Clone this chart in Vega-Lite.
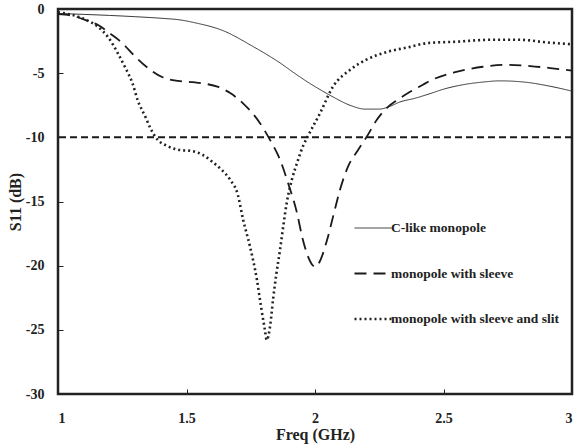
{
  "$schema": "https://vega.github.io/schema/vega-lite/v6.json",
  "width": 514,
  "height": 385,
  "autosize": {"type": "none"},
  "padding": {"left": 58, "top": 9, "right": 2, "bottom": 50},
  "background": "white",
  "config": {
    "view": {"stroke": "#222", "strokeWidth": 2.5},
    "font": "Liberation Serif",
    "axis": {
      "grid": false,
      "domain": false,
      "tickSize": -5,
      "tickColor": "#222",
      "tickWidth": 1,
      "labelFont": "Liberation Serif",
      "labelFontWeight": "bold",
      "labelFontSize": 14,
      "labelColor": "#222",
      "titleFont": "Liberation Serif",
      "titleFontWeight": "bold",
      "titleFontSize": 16,
      "titleColor": "#222"
    },
    "legend": {
      "labelFont": "Liberation Serif",
      "labelFontWeight": "bold",
      "labelFontSize": 13.5,
      "labelColor": "#222",
      "symbolType": "stroke",
      "symbolSize": 1369,
      "rowPadding": 19,
      "padding": 0,
      "labelOffset": -2,
      "labelLimit": 300
    }
  },
  "layer": [
    {
      "data": {
        "values": [
          {"f": 1.0, "s": -0.35, "c": "C-like monopole"},
          {"f": 1.1, "s": -0.42, "c": "C-like monopole"},
          {"f": 1.2, "s": -0.5, "c": "C-like monopole"},
          {"f": 1.3, "s": -0.6, "c": "C-like monopole"},
          {"f": 1.4, "s": -0.72, "c": "C-like monopole"},
          {"f": 1.475, "s": -0.85, "c": "C-like monopole"},
          {"f": 1.55, "s": -1.15, "c": "C-like monopole"},
          {"f": 1.6, "s": -1.4, "c": "C-like monopole"},
          {"f": 1.65, "s": -1.75, "c": "C-like monopole"},
          {"f": 1.7, "s": -2.25, "c": "C-like monopole"},
          {"f": 1.735, "s": -2.65, "c": "C-like monopole"},
          {"f": 1.8, "s": -3.4, "c": "C-like monopole"},
          {"f": 1.864, "s": -4.2, "c": "C-like monopole"},
          {"f": 1.92, "s": -5.0, "c": "C-like monopole"},
          {"f": 1.98, "s": -5.8, "c": "C-like monopole"},
          {"f": 2.03, "s": -6.4, "c": "C-like monopole"},
          {"f": 2.07, "s": -6.85, "c": "C-like monopole"},
          {"f": 2.136, "s": -7.5, "c": "C-like monopole"},
          {"f": 2.195, "s": -7.8, "c": "C-like monopole"},
          {"f": 2.25, "s": -7.8, "c": "C-like monopole"},
          {"f": 2.29, "s": -7.6, "c": "C-like monopole"},
          {"f": 2.33, "s": -7.25, "c": "C-like monopole"},
          {"f": 2.39, "s": -6.95, "c": "C-like monopole"},
          {"f": 2.447, "s": -6.6, "c": "C-like monopole"},
          {"f": 2.5, "s": -6.25, "c": "C-like monopole"},
          {"f": 2.576, "s": -5.9, "c": "C-like monopole"},
          {"f": 2.65, "s": -5.7, "c": "C-like monopole"},
          {"f": 2.72, "s": -5.6, "c": "C-like monopole"},
          {"f": 2.817, "s": -5.7, "c": "C-like monopole"},
          {"f": 2.91, "s": -6.0, "c": "C-like monopole"},
          {"f": 3.0, "s": -6.4, "c": "C-like monopole"},

          {"f": 1.0, "s": -0.4, "c": "monopole with sleeve"},
          {"f": 1.05, "s": -0.5, "c": "monopole with sleeve"},
          {"f": 1.105, "s": -0.85, "c": "monopole with sleeve"},
          {"f": 1.156, "s": -1.25, "c": "monopole with sleeve"},
          {"f": 1.195, "s": -1.8, "c": "monopole with sleeve"},
          {"f": 1.25, "s": -2.65, "c": "monopole with sleeve"},
          {"f": 1.3, "s": -3.7, "c": "monopole with sleeve"},
          {"f": 1.35, "s": -4.6, "c": "monopole with sleeve"},
          {"f": 1.405, "s": -5.3, "c": "monopole with sleeve"},
          {"f": 1.467, "s": -5.6, "c": "monopole with sleeve"},
          {"f": 1.525, "s": -5.7, "c": "monopole with sleeve"},
          {"f": 1.58, "s": -5.85, "c": "monopole with sleeve"},
          {"f": 1.62, "s": -6.05, "c": "monopole with sleeve"},
          {"f": 1.67, "s": -6.55, "c": "monopole with sleeve"},
          {"f": 1.72, "s": -7.35, "c": "monopole with sleeve"},
          {"f": 1.76, "s": -8.2, "c": "monopole with sleeve"},
          {"f": 1.786, "s": -8.9, "c": "monopole with sleeve"},
          {"f": 1.825, "s": -10.2, "c": "monopole with sleeve"},
          {"f": 1.864, "s": -11.75, "c": "monopole with sleeve"},
          {"f": 1.895, "s": -13.55, "c": "monopole with sleeve"},
          {"f": 1.93, "s": -15.9, "c": "monopole with sleeve"},
          {"f": 1.95, "s": -17.75, "c": "monopole with sleeve"},
          {"f": 1.973, "s": -19.3, "c": "monopole with sleeve"},
          {"f": 1.99, "s": -19.95, "c": "monopole with sleeve"},
          {"f": 2.0, "s": -20.1, "c": "monopole with sleeve"},
          {"f": 2.012, "s": -19.9, "c": "monopole with sleeve"},
          {"f": 2.047, "s": -18.0, "c": "monopole with sleeve"},
          {"f": 2.07, "s": -16.2, "c": "monopole with sleeve"},
          {"f": 2.097, "s": -14.1, "c": "monopole with sleeve"},
          {"f": 2.128, "s": -12.3, "c": "monopole with sleeve"},
          {"f": 2.167, "s": -11.0, "c": "monopole with sleeve"},
          {"f": 2.2, "s": -10.0, "c": "monopole with sleeve"},
          {"f": 2.24, "s": -8.65, "c": "monopole with sleeve"},
          {"f": 2.28, "s": -7.7, "c": "monopole with sleeve"},
          {"f": 2.32, "s": -7.1, "c": "monopole with sleeve"},
          {"f": 2.37, "s": -6.45, "c": "monopole with sleeve"},
          {"f": 2.42, "s": -5.9, "c": "monopole with sleeve"},
          {"f": 2.447, "s": -5.6, "c": "monopole with sleeve"},
          {"f": 2.55, "s": -4.9, "c": "monopole with sleeve"},
          {"f": 2.654, "s": -4.5, "c": "monopole with sleeve"},
          {"f": 2.747, "s": -4.35, "c": "monopole with sleeve"},
          {"f": 2.837, "s": -4.45, "c": "monopole with sleeve"},
          {"f": 2.915, "s": -4.6, "c": "monopole with sleeve"},
          {"f": 3.0, "s": -4.8, "c": "monopole with sleeve"},

          {"f": 1.0, "s": -0.25, "c": "monopole with sleeve and slit"},
          {"f": 1.078, "s": -0.6, "c": "monopole with sleeve and slit"},
          {"f": 1.12, "s": -0.95, "c": "monopole with sleeve and slit"},
          {"f": 1.156, "s": -1.4, "c": "monopole with sleeve and slit"},
          {"f": 1.195, "s": -2.2, "c": "monopole with sleeve and slit"},
          {"f": 1.233, "s": -3.45, "c": "monopole with sleeve and slit"},
          {"f": 1.26, "s": -4.5, "c": "monopole with sleeve and slit"},
          {"f": 1.29, "s": -5.8, "c": "monopole with sleeve and slit"},
          {"f": 1.31, "s": -7.1, "c": "monopole with sleeve and slit"},
          {"f": 1.34, "s": -8.4, "c": "monopole with sleeve and slit"},
          {"f": 1.36, "s": -9.3, "c": "monopole with sleeve and slit"},
          {"f": 1.38, "s": -10.0, "c": "monopole with sleeve and slit"},
          {"f": 1.428, "s": -10.7, "c": "monopole with sleeve and slit"},
          {"f": 1.48, "s": -11.0, "c": "monopole with sleeve and slit"},
          {"f": 1.514, "s": -11.05, "c": "monopole with sleeve and slit"},
          {"f": 1.566, "s": -11.4, "c": "monopole with sleeve and slit"},
          {"f": 1.6, "s": -11.9, "c": "monopole with sleeve and slit"},
          {"f": 1.64, "s": -12.6, "c": "monopole with sleeve and slit"},
          {"f": 1.67, "s": -13.3, "c": "monopole with sleeve and slit"},
          {"f": 1.7, "s": -14.5, "c": "monopole with sleeve and slit"},
          {"f": 1.72, "s": -16.4, "c": "monopole with sleeve and slit"},
          {"f": 1.747, "s": -18.5, "c": "monopole with sleeve and slit"},
          {"f": 1.774, "s": -21.1, "c": "monopole with sleeve and slit"},
          {"f": 1.79, "s": -23.2, "c": "monopole with sleeve and slit"},
          {"f": 1.805, "s": -25.0, "c": "monopole with sleeve and slit"},
          {"f": 1.812, "s": -25.8, "c": "monopole with sleeve and slit"},
          {"f": 1.825, "s": -24.75, "c": "monopole with sleeve and slit"},
          {"f": 1.837, "s": -22.6, "c": "monopole with sleeve and slit"},
          {"f": 1.85, "s": -20.6, "c": "monopole with sleeve and slit"},
          {"f": 1.864, "s": -18.75, "c": "monopole with sleeve and slit"},
          {"f": 1.876, "s": -17.0, "c": "monopole with sleeve and slit"},
          {"f": 1.89, "s": -15.1, "c": "monopole with sleeve and slit"},
          {"f": 1.91, "s": -13.3, "c": "monopole with sleeve and slit"},
          {"f": 1.93, "s": -12.0, "c": "monopole with sleeve and slit"},
          {"f": 1.953, "s": -10.7, "c": "monopole with sleeve and slit"},
          {"f": 1.97, "s": -10.0, "c": "monopole with sleeve and slit"},
          {"f": 2.02, "s": -8.1, "c": "monopole with sleeve and slit"},
          {"f": 2.07, "s": -6.05, "c": "monopole with sleeve and slit"},
          {"f": 2.136, "s": -4.75, "c": "monopole with sleeve and slit"},
          {"f": 2.2, "s": -3.95, "c": "monopole with sleeve and slit"},
          {"f": 2.28, "s": -3.35, "c": "monopole with sleeve and slit"},
          {"f": 2.37, "s": -2.95, "c": "monopole with sleeve and slit"},
          {"f": 2.44, "s": -2.65, "c": "monopole with sleeve and slit"},
          {"f": 2.55, "s": -2.55, "c": "monopole with sleeve and slit"},
          {"f": 2.68, "s": -2.4, "c": "monopole with sleeve and slit"},
          {"f": 2.8, "s": -2.4, "c": "monopole with sleeve and slit"},
          {"f": 2.9, "s": -2.6, "c": "monopole with sleeve and slit"},
          {"f": 3.0, "s": -2.75, "c": "monopole with sleeve and slit"}
        ]
      },
      "mark": {"type": "line", "interpolate": "monotone", "clip": true},
      "encoding": {
        "x": {
          "field": "f", "type": "quantitative",
          "scale": {"domain": [1, 3], "nice": false, "zero": false},
          "axis": {"values": [1, 1.5, 2, 2.5, 3], "labelExpr": "'' + datum.value", "title": "Freq (GHz)", "labelPadding": 22, "titlePadding": 1}
        },
        "y": {
          "field": "s", "type": "quantitative",
          "scale": {"domain": [-30, 0], "nice": false},
          "axis": {"values": [-30, -25, -20, -15, -10, -5, 0], "labelExpr": "'' + datum.value", "title": "S11 (dB)", "labelPadding": 19, "titlePadding": 2}
        },
        "strokeDash": {
          "field": "c", "type": "nominal",
          "scale": {"domain": ["C-like monopole", "monopole with sleeve", "monopole with sleeve and slit"], "range": [[1, 0], [12, 7], [2, 3]]},
          "legend": {"orient": "none", "legendX": 295, "legendY": 200, "title": null}
        },
        "strokeWidth": {
          "field": "c", "type": "nominal",
          "scale": {"domain": ["C-like monopole", "monopole with sleeve", "monopole with sleeve and slit"], "range": [1, 2.6, 1.3]},
          "legend": {"orient": "none", "legendX": 295, "legendY": 200, "title": null}
        },
        "color": {
          "field": "c", "type": "nominal",
          "scale": {"domain": ["C-like monopole", "monopole with sleeve", "monopole with sleeve and slit"], "range": ["#333333", "#1a1a1a", "#222222"]},
          "legend": {"orient": "none", "legendX": 295, "legendY": 200, "title": null}
        }
      }
    },
    {
      "data": {"values": [{"level": -10}]},
      "mark": {"type": "rule", "strokeDash": [7, 4], "strokeWidth": 2, "color": "#1a1a1a"},
      "encoding": {"y": {"field": "level", "type": "quantitative"}}
    }
  ]
}
